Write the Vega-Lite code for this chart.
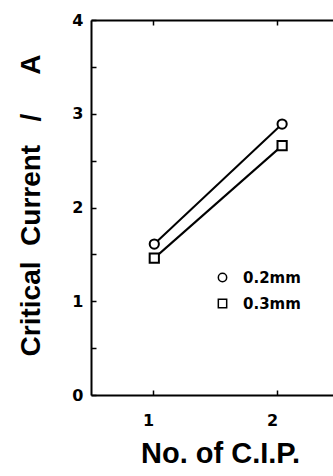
{
  "$schema": "https://vega.github.io/schema/vega-lite/v6.json",
  "width": 242,
  "height": 375,
  "autosize": {"type": "none"},
  "padding": {"left": 91, "top": 20, "right": 0, "bottom": 81},
  "background": "white",
  "config": {
    "view": {"stroke": null},
    "axis": {
      "domainColor": "black", "domainWidth": 2, "tickColor": "black", "tickWidth": 1.5,
      "grid": false, "labelColor": "black", "titleColor": "black",
      "labelFont": "DejaVu Sans", "labelFontWeight": "bold", "labelFontSize": 16,
      "titleFont": "Liberation Sans", "titleFontWeight": "bold"
    }
  },
  "data": {"values": [
    {"n": 1.01, "current": 1.61, "size": "0.2mm"},
    {"n": 2.04, "current": 2.89, "size": "0.2mm"},
    {"n": 1.01, "current": 1.46, "size": "0.3mm"},
    {"n": 2.04, "current": 2.66, "size": "0.3mm"}
  ]},
  "layer": [
    {
      "mark": {"type": "line", "color": "black", "strokeWidth": 2},
      "encoding": {
        "x": {"field": "n", "type": "quantitative", "scale": {"domain": [0.5, 2.45], "nice": false, "zero": false},
          "axis": {"orient": "bottom", "values": [1, 2], "format": ".0f", "tickSize": -5, "labelPadding": 35, "labelOffset": -5, "labelBaseline": "alphabetic",
            "title": "No. of C.I.P.", "titleFontSize": 29, "titleX": 129, "titleY": 67, "titleBaseline": "alphabetic", "titleAlign": "center"}},
        "y": {"field": "current", "type": "quantitative", "scale": {"domain": [0, 4], "nice": false},
          "axis": {"values": [0, 0.5, 1, 1.5, 2, 2.5, 3, 3.5, 4], "format": ".0f", "labelExpr": "datum.value % 1 === 0 ? datum.label : ''",
            "tickSize": -5, "labelPadding": 13,
            "title": "Critical\u00a0\u00a0Current\u00a0\u00a0\u00a0/\u00a0\u00a0\u00a0\u00a0\u00a0A", "titleFontSize": 28, "titleAngle": -90,
            "titleX": -52, "titleY": 185, "titleBaseline": "alphabetic", "titleAlign": "center"}},
        "detail": {"field": "size"}
      }
    },
    {
      "mark": {"type": "point", "filled": true, "fill": "white", "stroke": "black", "strokeWidth": 2, "size": 85, "opacity": 1},
      "encoding": {
        "x": {"field": "n", "type": "quantitative", "axis": null},
        "y": {"field": "current", "type": "quantitative"},
        "shape": {"field": "size", "type": "nominal", "scale": {"domain": ["0.2mm", "0.3mm"], "range": ["circle", "square"]},
          "legend": {"orient": "none", "legendX": 124, "legendY": 250, "title": null,
            "labelFont": "DejaVu Sans", "labelFontWeight": "bold", "labelFontSize": 15, "labelColor": "black",
            "symbolSize": 70, "labelOffset": 13, "rowPadding": 10, "padding": 0,
            "encode": {"symbols": {"update": {"fill": {"value": "white"}, "stroke": {"value": "black"}, "strokeWidth": {"value": 2}, "opacity": {"value": 1}}}}}}
      }
    },
    {
      "mark": {"type": "point", "opacity": 0},
      "encoding": {
        "x": {"field": "n", "type": "quantitative",
          "axis": {"orient": "top", "values": [1, 2], "tickSize": -5, "labels": false, "title": null}},
        "y": {"field": "current", "type": "quantitative"}
      }
    }
  ],
  "resolve": {"axis": {"x": "independent"}}
}
